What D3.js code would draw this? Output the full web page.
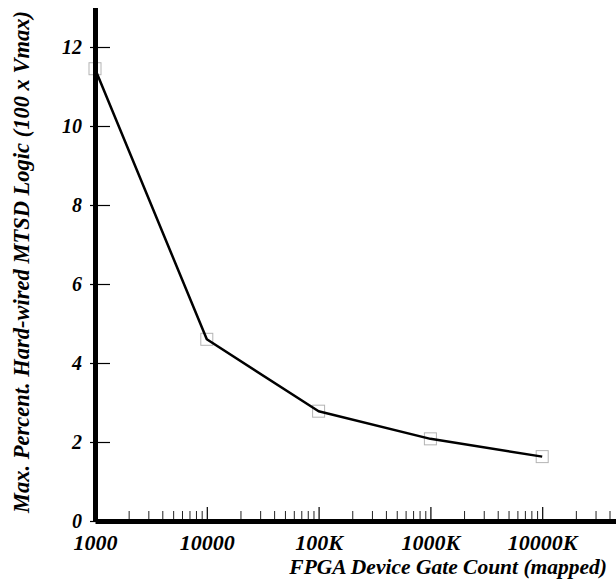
<!DOCTYPE html>
<html>
<head>
<meta charset="utf-8">
<script src="https://cdn.jsdelivr.net/npm/d3@7"></script>
<style>
  body { margin: 0; background: #fff; }
</style>
</head>
<body>
<div id="chart-container"></div>
<script>
// gate counts (mapped) and max percent hard-wired MTSD logic
var gates = [1e3, 1e4, 1e5, 1e6, 1e7];
var percent = [11.45, 4.6, 2.78, 2.08, 1.63];
var xTickValues = [1e3, 1e4, 1e5, 1e6, 1e7];
var xTickLabels = ['1000', '10000', '100K', '1000K', '10000K'];
var yTickValues = [0, 2, 4, 6, 8, 10, 12];

var fontFamily = "'Liberation Serif', 'Times New Roman', serif";

var svgWidth = 616,
    svgHeight = 582,
    svg = d3.select('#chart-container').append('svg').attr('width', svgWidth).attr('height', svgHeight)
      .attr('font-family', fontFamily).attr('font-weight', 'bold').attr('font-style', 'italic');

var x = d3.scaleLog().domain([1e3, 1e8]).range([95, 654]);
var y = d3.scaleLinear().domain([0, 13]).range([521, 7.5]);

var data = gates.map(function(g, i) { return { g: g, v: percent[i] }; });

// markers (behind the axes and the line)
svg.append('g').selectAll('rect')
  .data(data)
  .enter().append('rect')
  .attr('x', function(d) { return x(d.g) - 6; })
  .attr('y', function(d) { return y(d.v) - 6; })
  .attr('width', 12)
  .attr('height', 12)
  .attr('fill', 'none')
  .attr('stroke', '#b4b4b4')
  .attr('stroke-width', 1);

// minor x ticks
var minor = [];
for (var e = 3; e < 8; e++) {
  for (var m = 2; m <= 9; m++) minor.push(m * Math.pow(10, e));
}

svg.append('g')
  .attr('transform', 'translate(0,' + y(0) + ')')
  .call(d3.axisBottom(x).tickValues(minor).tickSize(-10).tickSizeOuter(0).tickFormat(''))
  .call(function(g) { g.select('.domain').remove(); })
  .selectAll('line').attr('stroke', '#222').attr('stroke-width', 1);

var xAxis = svg.append('g')
  .attr('transform', 'translate(0,' + y(0) + ')')
  .call(d3.axisBottom(x).tickValues(xTickValues).tickSize(-14).tickSizeOuter(0).tickPadding(13)
    .tickFormat(function(d, i) { return xTickLabels[i]; }));
xAxis.attr('font-family', fontFamily).attr('font-size', 22);
xAxis.select('.domain').attr('stroke-width', 5).attr('stroke', '#000');
xAxis.selectAll('line').attr('stroke-width', 1.2);
xAxis.selectAll('text').attr('fill', '#000');

var yAxis = svg.append('g')
  .attr('transform', 'translate(' + x(1e3) + ',0)')
  .call(d3.axisLeft(y).tickValues(yTickValues).tickSize(-15).tickSizeOuter(0).tickPadding(13));
yAxis.attr('font-family', fontFamily).attr('font-size', 20);
yAxis.select('.domain').attr('stroke-width', 5).attr('stroke', '#000');
yAxis.selectAll('line').attr('x1', -5).attr('stroke-width', 1.2);
yAxis.selectAll('text').attr('fill', '#000');

var line = d3.line()
  .x(function(d) { return x(d.g); })
  .y(function(d) { return y(d.v); });

svg.append('path')
  .datum(data)
  .attr('fill', 'none')
  .attr('stroke', '#000')
  .attr('stroke-width', 2.5)
  .attr('stroke-linejoin', 'round')
  .attr('d', line);

svg.append('text')
  .attr('x', 607)
  .attr('y', 574)
  .style('text-anchor', 'end')
  .style('font-size', '21.5px')
  .text('FPGA Device Gate Count (mapped)');

svg.append('text')
  .attr('transform', 'translate(29,262) rotate(-90)')
  .style('text-anchor', 'middle')
  .style('font-size', '22.5px')
  .text('Max. Percent. Hard-wired MTSD Logic (100 x Vmax)');
</script>
</body>
</html>
